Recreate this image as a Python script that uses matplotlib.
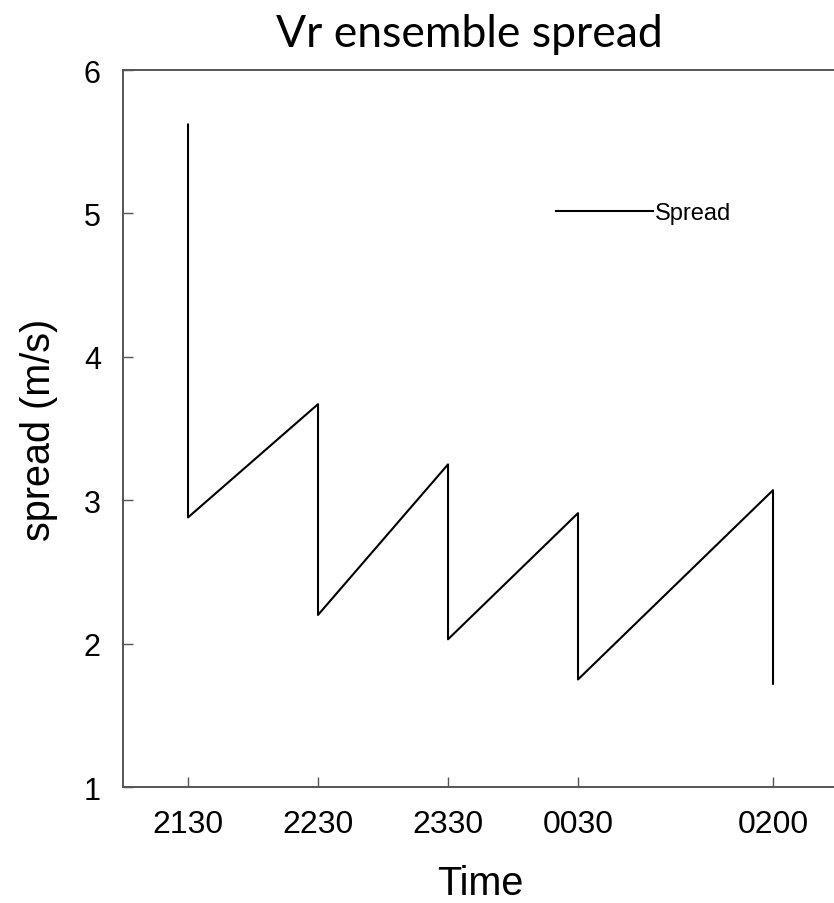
import matplotlib
matplotlib.use("Agg")
import matplotlib.pyplot as plt

# -------------------------------------------------
# data (minutes after 2130)
# -------------------------------------------------
times = [0, 0, 60, 60, 120, 120, 180, 180, 270, 270]
spread = [5.62, 2.88, 3.67, 2.20, 3.25, 2.03, 2.91, 1.75, 3.07, 1.72]

tick_pos = [0, 60, 120, 180, 270]
tick_labels = ["2130", "2230", "2330", "0030", "0200"]
y_ticks = [1, 2, 3, 4, 5, 6]

plt.rcParams["font.family"] = ["Liberation Sans", "DejaVu Sans"]

fig = plt.figure(figsize=(8.34, 9.04), dpi=100)
ax = fig.add_axes([0.1475, 0.1283, 0.8573, 0.7931])

ax.plot(times, spread, color="black", linewidth=1.5, label="Spread")

ax.set_xlim(-30, 300)
ax.set_ylim(1, 6)
ax.set_xticks(tick_pos)
ax.set_xticklabels(tick_labels)
ax.set_yticks(y_ticks)

spine_col = "#555555"
for s in ax.spines.values():
    s.set_color(spine_col)
    s.set_linewidth(1.4)

ax.tick_params(axis="both", direction="in", length=7, width=1.0,
               color=spine_col)
ax.tick_params(axis="x", labelsize=23, pad=16)
ax.tick_params(axis="y", labelsize=22, pad=16)

ax.set_xlabel("Time", fontsize=28.5, va="top")
ax.xaxis.set_label_coords(0.5, -0.107)
ax.set_ylabel("spread (m/s)", fontsize=28.5)
ax.yaxis.set_label_coords(-0.091, 0.5)

ax.legend(loc="center left", bbox_to_anchor=(0.6056, 0.8006),
          frameon=False, fontsize=17, handlelength=4.1,
          handletextpad=0.08, borderpad=0, borderaxespad=0)

fig.text(469.5 / 834, 1 - 47 / 904, "Vr ensemble spread",
         fontsize=32, family=["Lato", "DejaVu Sans"],
         ha="center", va="baseline")

fig.savefig("out.png", dpi=100)
